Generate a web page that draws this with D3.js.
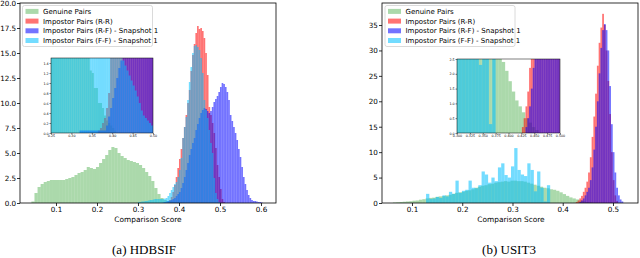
<!DOCTYPE html>
<html>
<head>
<meta charset="utf-8">
<script src="https://cdn.jsdelivr.net/npm/d3@7"></script>
<style>
body { margin: 0; background: #fff; }
svg { display: block; }
text { font-family: "DejaVu Sans", sans-serif; }
</style>
</head>
<body>
<svg id="chart" width="640" height="258"></svg>
<script>
// legend / series
var seriesNames = ["Genuine Pairs", "Impostor Pairs (R-R)", "Impostor Pairs (R-F) - Snapshot 1", "Impostor Pairs (F-F) - Snapshot 1"];
var colors = ["#2ca02c", "#ff0000", "#0000ff", "#00bfff"];
var alphas = [0.4, 0.55, 0.55, 0.55];

// (a) HDBSIF, bin heights (density), first bin edge + bin width
var hdbGenuineStart = 0.040, hdbGenuineWidth = 0.0075;
var hdbGenuine = [0.15,1.0,1.6,1.9,2.1,2.2,2.3,2.3,2.3,2.3,2.3,2.4,2.5,2.6,2.8,3.0,3.1,3.3,3.6,3.5,3.4,3.6,4.0,4.4,4.8,5.3,5.6,5.5,5.0,4.7,4.5,4.3,4.2,4.1,4.0,3.8,3.5,3.1,2.7,2.2,1.5,0.9,0.5,0.3,0.2,0.15,0.1,0.1,0.05];
var hdbRRStart = 0.372, hdbRRWidth = 0.004;
var hdbRR = [0.1,0.3,0.6,1.1,1.8,2.6,3.5,4.4,5.4,6.5,7.6,8.8,10.0,11.3,13.2,14.8,15.9,17.0,17.7,17.4,17.5,17.2,16.5,15.0,12.8,9.6,8.8,8.0,7.0,5.5,3.8,2.6,1.4,0.4,0.1];
var hdbRFStart = 0.360, hdbRFWidth = 0.004;
var hdbRF = [0.05,0.1,0.15,0.2,0.25,0.3,0.4,0.5,0.7,0.9,1.1,1.5,2.0,2.6,3.3,4.0,4.8,5.4,6.0,6.5,7.3,7.9,8.5,9.0,9.3,9.5,9.4,9.2,9.0,9.2,9.6,10.1,10.4,10.7,11.1,11.6,12.0,11.9,11.6,11.1,10.3,8.8,8.2,7.6,7.0,6.3,5.4,4.6,3.6,2.6,1.9,1.3,0.8,0.5,0.3,0.2,0.2,0.15,0.1,0.1,0.05];
var hdbFFStart = 0.300, hdbFFWidth = 0.004;
var hdbFF = [0.1,0.1,0.15,0.15,0.2,0.2,0.25,0.3,0.3,0.35,0.4,0.4,0.4,0.4,0.4,0.4,0.45,0.5,0.7,1.0,1.3,1.6,1.9,2.1,2.6,3.3,4.5,6.5,7.6,8.6,10.3,12.1,13.6,15.0,15.7,15.8,15.6,15.3,14.5,13.0,10.3,9.3,8.5,7.3,6.0,5.0,2.5,1.0,0.4,0.1];

// (a) inset, 0.25 - 0.50, bins of 0.005
var hdbInsetStart = 0.25, hdbInsetWidth = 0.005;
var hdbInsetGenuine = [3,3,3,3,3,3,3,3,3,3,3,3,3,3,3,3,3,3,3,1.25,1.2,0.9,0.9,0.6,0.6,0.5,0.35,0.25,0.2,0.15,0.1,0.05,0,0,0,0,0,0,0,0,0,0,0,0,0,0,0,0,0,0];
var hdbInsetRR = [0,0,0,0,0,0,0,0,0,0,0,0,0,0,0,0,0,0,0,0,0,0,0,0.05,0.1,0.2,0.3,0.5,0.8,3,3,3,3,3,3,3,3,3,3,3,3,3,3,3,3,3,3,3,3,3];
var hdbInsetRF = [0,0,0,0,0,0,0,0,0,0,0,0,0,0,0.05,0.05,0.05,0.05,0.05,0.05,0.05,0.05,0.05,0.05,0.05,0.05,0.05,0.15,0.33,0.5,0.7,0.9,1.1,1.3,1.45,3,3,3,3,3,3,3,3,3,3,3,3,3,3,3];
var hdbInsetFF = [3,3,3,3,3,3,3,3,3,3,3,3,3,3,3,3,3,3,3,3,3,3,3,3,3,3,3,3,3,3,3,3,3,3,3,1.45,1.35,1.25,1.15,1.05,0.95,0.85,0.73,0.6,0.45,0.35,0.3,0.25,0.2,0.15];

// (b) USIT3
var usitGenuineStart = 0.062, usitGenuineWidth = 0.0065;
var usitGenuine = [0.1,0.15,0.2,0.25,0.3,0.35,0.45,0.5,0.65,0.75,0.9,1.0,1.05,1.2,1.3,1.35,1.5,1.6,1.8,2.0,2.1,2.2,2.4,2.5,2.7,3.0,3.2,3.4,3.5,3.7,3.8,4.0,4.1,4.2,4.3,4.2,4.4,4.4,4.3,4.3,4.2,4.0,3.8,3.6,3.4,3.2,3.0,2.9,2.7,2.6,2.4,2.1,1.75,1.4,1.1,0.9,0.7,0.5,0.35,0.2,0.1];
var usitRRStart = 0.426, usitRRWidth = 0.0035;
var usitRR = [0.2,0.5,0.9,1.4,2.2,3.0,4.2,6.0,9.0,13.0,17.0,21.5,27.0,31.5,34.5,37.2,35.0,30.0,24.0,17.5,10.0,4.5,1.5,0.4];
var usitRFStart = 0.433, usitRFWidth = 0.0035;
var usitRF = [0.2,0.5,0.9,1.5,2.2,3.0,4.5,7.0,10.5,15.0,20.0,25.5,30.5,34.0,35.2,34.0,30.0,23.0,15.5,10.0,6.0,3.0,1.5,0.7,0.3];
var usitFFStart = 0.128, usitFFWidth = 0.0065;
var usitFF = [1.8,0.8,0.9,1.2,1.0,1.5,1.3,2.2,1.8,4.4,2.0,2.4,2.6,4.4,3.0,2.9,3.5,6.2,5.6,4.0,5.0,4.3,7.0,7.8,5.5,5.0,7.2,10.8,6.5,5.6,5.3,7.8,6.5,2.3,6.2,3.0,0.3,3.5];

// ticks
var hdbXTicks = [0.1, 0.2, 0.3, 0.4, 0.5, 0.6];
var hdbYTicks = [0, 2.5, 5, 7.5, 10, 12.5, 15, 17.5, 20];
var hdbInsetXTicks = [0.25, 0.30, 0.35, 0.40, 0.45, 0.50];
var hdbInsetYTicks = [0, 0.2, 0.4, 0.6, 0.8, 1.0, 1.2, 1.4];
var usitXTicks = [0.1, 0.2, 0.3, 0.4, 0.5];
var usitYTicks = [0, 5, 10, 15, 20, 25, 30, 35];
var usitInsetXTicks = [0.300, 0.325, 0.350, 0.375, 0.400, 0.425, 0.450, 0.475, 0.500];
var usitInsetYTicks = [0, 0.5, 1.0, 1.5, 2.0, 2.5];

var svg = d3.select("#chart");
var clipId = 0;

function drawHist(g, x, y, series) {
    series.forEach(function(s, k) {
        g.append("g")
            .attr("fill", colors[k])
            .attr("fill-opacity", alphas[k])
            .selectAll("rect")
            .data(s.values)
            .enter().append("rect")
            .attr("x", function(d, i){ return x(s.start + i * s.width); })
            .attr("width", function(d, i){ return x(s.start + (i + 1) * s.width) - x(s.start + i * s.width); })
            .attr("y", function(d){ return y(d); })
            .attr("height", function(d){ return y(0) - y(d); });
    });
}

function axes(p) {
    var x = d3.scaleLinear().domain(p.xDomain).range([p.left, p.right]);
    var y = d3.scaleLinear().domain(p.yDomain).range([p.bottom, p.top]);

    var id = "clip" + (clipId++);
    svg.append("clipPath").attr("id", id)
        .append("rect")
        .attr("x", p.left).attr("y", p.top)
        .attr("width", p.right - p.left).attr("height", p.bottom - p.top);

    svg.append("rect")
        .attr("x", p.left).attr("y", p.top)
        .attr("width", p.right - p.left).attr("height", p.bottom - p.top)
        .attr("fill", "#fff");

    var plot = svg.append("g").attr("clip-path", "url(#" + id + ")");
    drawHist(plot, x, y, p.series);

    var xa = svg.append("g")
        .attr("transform", "translate(0," + p.bottom + ")")
        .call(d3.axisBottom(x).tickValues(p.xTicks).tickFormat(p.xFormat)
            .tickSize(p.tick).tickPadding(p.xpad));
    var ya = svg.append("g")
        .attr("transform", "translate(" + p.left + ",0)")
        .call(d3.axisLeft(y).tickValues(p.yTicks).tickFormat(p.yFormat)
            .tickSize(p.tick).tickPadding(p.ypad));
    [xa, ya].forEach(function(a) {
        a.select(".domain").remove();
        a.attr("font-family", null).attr("font-size", null);
        a.selectAll("line").attr("stroke", "#000").attr("stroke-width", p.lw);
        a.selectAll("text").attr("fill", "#000").style("font-size", p.font + "px");
    });

    svg.append("rect")
        .attr("x", p.left).attr("y", p.top)
        .attr("width", p.right - p.left).attr("height", p.bottom - p.top)
        .attr("fill", "none").attr("stroke", "#000").attr("stroke-width", p.lw);
}

function legend(lx, ly) {
    var lg = svg.append("g").attr("transform", "translate(" + lx + "," + ly + ")");
    lg.append("rect")
        .attr("width", 130).attr("height", 41).attr("rx", 2)
        .attr("fill", "#fff").attr("fill-opacity", 0.8)
        .attr("stroke", "#d0d0d0").attr("stroke-width", 0.8);
    var row = lg.selectAll(".row").data(seriesNames).enter().append("g")
        .attr("transform", function(d, i){ return "translate(3," + (6 + i * 9.7) + ")"; });
    row.append("rect")
        .attr("y", -2.6).attr("width", 13).attr("height", 5)
        .attr("fill", function(d, i){ return colors[i]; })
        .attr("fill-opacity", function(d, i){ return alphas[i]; });
    row.append("text")
        .attr("x", 17.5).attr("dy", "0.35em")
        .style("font-size", "7px")
        .text(function(d){ return d; });
}

function labels(cx, capX, caption) {
    svg.append("text")
        .attr("x", cx).attr("y", 221.5)
        .attr("text-anchor", "middle")
        .style("font-size", "7.4px")
        .text("Comparison Score");
    svg.append("text")
        .attr("x", capX).attr("y", 254)
        .attr("text-anchor", "middle")
        .style("font-family", "'Liberation Serif', serif")
        .style("font-size", "13px")
        .text(caption);
}

var f1 = d3.format(".1f");

// (a) HDBSIF
axes({
    left: 20, right: 276, top: 3, bottom: 203,
    xDomain: [0.0122, 0.6366], yDomain: [0, 20],
    xTicks: hdbXTicks, yTicks: hdbYTicks, xFormat: f1, yFormat: f1,
    tick: 3, xpad: 0.6, ypad: 0.8, font: 7.2, lw: 0.8,
    series: [
        {start: hdbGenuineStart, width: hdbGenuineWidth, values: hdbGenuine},
        {start: hdbRRStart, width: hdbRRWidth, values: hdbRR},
        {start: hdbRFStart, width: hdbRFWidth, values: hdbRF},
        {start: hdbFFStart, width: hdbFFWidth, values: hdbFF}
    ]
});
legend(22.5, 5.5);
axes({
    left: 51, right: 153, top: 58, bottom: 133,
    xDomain: [0.25, 0.50], yDomain: [0, 1.5],
    xTicks: hdbInsetXTicks, yTicks: hdbInsetYTicks, xFormat: d3.format(".2f"), yFormat: f1,
    tick: 1.5, xpad: 0.6, ypad: 0.8, font: 3.3, lw: 0.5,
    series: [
        {start: hdbInsetStart, width: hdbInsetWidth, values: hdbInsetGenuine},
        {start: hdbInsetStart, width: hdbInsetWidth, values: hdbInsetRR},
        {start: hdbInsetStart, width: hdbInsetWidth, values: hdbInsetRF},
        {start: hdbInsetStart, width: hdbInsetWidth, values: hdbInsetFF}
    ]
});
labels(148, 144, "(a) HDBSIF");

// (b) USIT3
var usitSeries = [
    {start: usitGenuineStart, width: usitGenuineWidth, values: usitGenuine},
    {start: usitRRStart, width: usitRRWidth, values: usitRR},
    {start: usitRFStart, width: usitRFWidth, values: usitRF},
    {start: usitFFStart, width: usitFFWidth, values: usitFF}
];
axes({
    left: 382, right: 638, top: 3, bottom: 203,
    xDomain: [0.0403, 0.5498], yDomain: [0, 39.33],
    xTicks: usitXTicks, yTicks: usitYTicks, xFormat: f1, yFormat: d3.format("d"),
    tick: 3, xpad: 0.6, ypad: 1.2, font: 7.2, lw: 0.8,
    series: usitSeries
});
legend(385, 5.5);
axes({
    left: 457, right: 560, top: 59, bottom: 133,
    xDomain: [0.3, 0.5], yDomain: [0, 2.5],
    xTicks: usitInsetXTicks, yTicks: usitInsetYTicks, xFormat: d3.format(".3f"), yFormat: f1,
    tick: 1.5, xpad: 0.6, ypad: 0.8, font: 3.3, lw: 0.5,
    series: usitSeries
});
labels(511, 509, "(b) USIT3");
</script>
</body>
</html>
